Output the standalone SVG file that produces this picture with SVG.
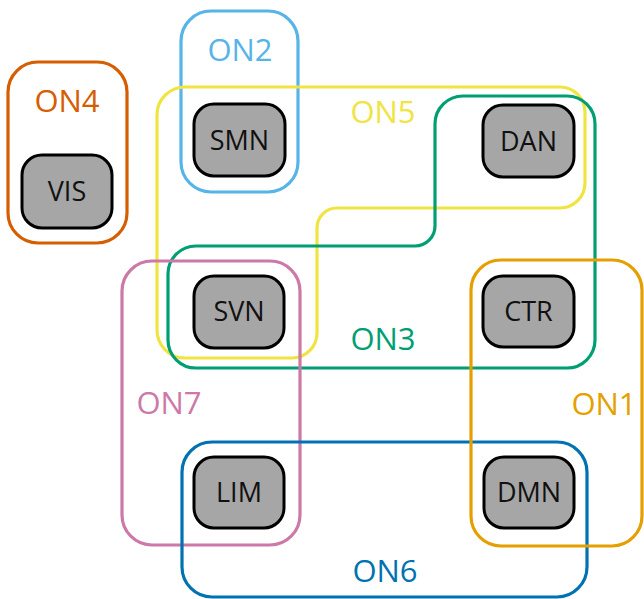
<svg xmlns="http://www.w3.org/2000/svg" width="644" height="599" viewBox="0 0 644 599">
<style>
.grp{fill:none;stroke-width:3.2}
.node rect{fill:#a6a6a6;stroke:#000;stroke-width:3}
.node text{font-family:"Open Sans","Noto Sans",sans-serif;font-size:27px;fill:#111;text-anchor:middle}
.lbl{font-family:"Open Sans","Noto Sans",sans-serif;font-size:31px;text-anchor:middle}
</style>
<rect width="644" height="599" fill="#fff"/>
<g id="connectors">
<g id="ON4"><rect class="grp" x="8" y="62" width="119" height="181" rx="30" stroke="#D55E00"/><text class="lbl" x="67" y="112" fill="#D55E00">ON4</text></g>
<g id="ON2"><rect class="grp" x="181" y="11" width="117" height="181" rx="30" stroke="#56B4E9"/><text class="lbl" x="240" y="61" fill="#56B4E9">ON2</text></g>
<g id="ON5"><path class="grp" stroke="#F0E442" d="M185,87 H560 A25 25 0 0 1 585,112 V183 A25 25 0 0 1 560,208 H337 A20 20 0 0 0 317,228 V333 A25 25 0 0 1 292,358 H185 A28 28 0 0 1 157,330 V115 A28 28 0 0 1 185,87 Z"/><text class="lbl" x="383" y="123" fill="#F0E442">ON5</text></g>
<g id="ON3"><path class="grp" stroke="#009E73" d="M463,96 H567 A28 28 0 0 1 595,124 V340 A28 28 0 0 1 567,368 H196 A28 28 0 0 1 168,340 V274 A28 28 0 0 1 196,246 H415 A20 20 0 0 0 435,226 V124 A28 28 0 0 1 463,96 Z"/><text class="lbl" x="383" y="350" fill="#009E73">ON3</text></g>
<g id="ON7"><rect class="grp" x="122" y="261" width="178" height="284" rx="30" stroke="#CC79A7"/><text class="lbl" x="169" y="414" fill="#CC79A7">ON7</text></g>
<g id="ON6"><rect class="grp" x="182" y="442" width="405" height="155" rx="30" stroke="#0072B2"/><text class="lbl" x="385" y="582" fill="#0072B2">ON6</text></g>
<g id="ON1"><rect class="grp" x="471" y="260" width="171" height="286" rx="30" stroke="#E69F00"/><text class="lbl" x="604" y="415" fill="#E69F00">ON1</text></g>
</g>
<g id="VIS" class="node"><rect x="22" y="155" width="90" height="73" rx="20"/><text x="67" y="201">VIS</text></g>
<g id="SMN" class="node"><rect x="194" y="104" width="91" height="72" rx="20"/><text x="239.5" y="150">SMN</text></g>
<g id="DAN" class="node"><rect x="483" y="105" width="91" height="72" rx="20"/><text x="528.5" y="151">DAN</text></g>
<g id="CTR" class="node"><rect x="483" y="276" width="91" height="71" rx="20"/><text x="528.5" y="321">CTR</text></g>
<g id="SVN" class="node"><rect x="194" y="276" width="90" height="72" rx="20"/><text x="239" y="321">SVN</text></g>
<g id="LIM" class="node"><rect x="194" y="457" width="90" height="71" rx="20"/><text x="239" y="502">LIM</text></g>
<g id="DMN" class="node"><rect x="484" y="457" width="90" height="71" rx="20"/><text x="529" y="502">DMN</text></g>
</svg>
